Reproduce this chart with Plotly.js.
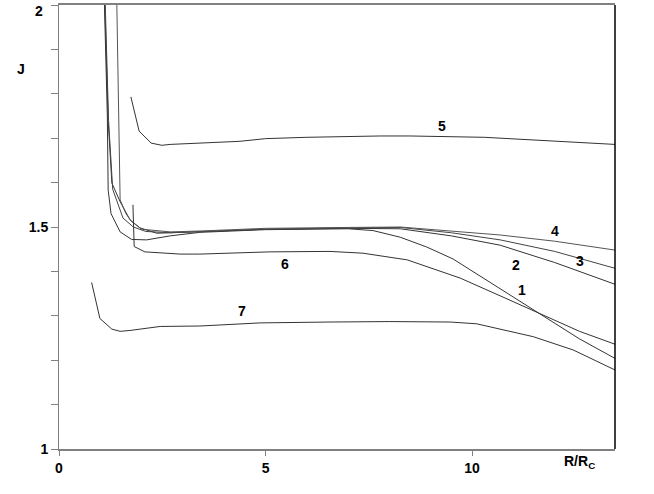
<!DOCTYPE html>
<html>
<head>
<meta charset="utf-8">
<script src="https://cdn.plot.ly/plotly-3.0.1.min.js"></script>
<style>html,body{margin:0;padding:0;background:#fff;}</style>
</head>
<body>
<div id="chart" style="width:654px;height:494px;"></div>
<script>
// Curve data (x = R/Rc, y = J)
const x1 = [1.10, 1.17, 1.19, 1.26, 1.48, 1.76, 2.12, 2.69, 3.41, 5.0, 7.0, 7.6, 8.26, 8.9, 9.54, 10.6, 11.81, 12.6, 13.46];
const y1 = [2.0, 1.75, 1.583, 1.53, 1.489, 1.472, 1.471, 1.48, 1.488, 1.494, 1.496, 1.492, 1.477, 1.455, 1.428, 1.365, 1.294, 1.248, 1.204];

const x2 = [1.11, 1.19, 1.28, 1.48, 1.72, 1.96, 2.37, 3.41, 5.0, 7.0, 8.26, 9.5, 10.68, 12.0, 13.46];
const y2 = [2.0, 1.74, 1.599, 1.557, 1.516, 1.498, 1.486, 1.489, 1.495, 1.497, 1.496, 1.48, 1.459, 1.42, 1.371];

const x3 = [1.12, 1.20, 1.30, 1.55, 1.80, 2.1, 2.69, 3.41, 5.0, 7.0, 8.26, 9.5, 10.68, 12.0, 13.46];
const y3 = [2.0, 1.74, 1.585, 1.52, 1.50, 1.49, 1.487, 1.49, 1.495, 1.498, 1.499, 1.487, 1.471, 1.445, 1.407];

const x4 = [1.40, 1.44, 1.48, 1.62, 1.76, 2.0, 2.69, 3.41, 5.0, 7.0, 8.26, 9.47, 10.68, 12.0, 13.46];
const y4 = [2.0, 1.74, 1.561, 1.53, 1.512, 1.495, 1.489, 1.491, 1.497, 1.499, 1.500, 1.491, 1.482, 1.468, 1.448];

const x5 = [1.74, 1.94, 2.23, 2.49, 2.69, 3.41, 4.38, 5.0, 6.0, 7.77, 8.5, 10.3, 11.4, 12.5, 13.46];
const y5 = [1.793, 1.716, 1.689, 1.684, 1.686, 1.689, 1.693, 1.699, 1.702, 1.705, 1.705, 1.702, 1.697, 1.692, 1.686];

const x6 = [1.79, 1.82, 2.08, 2.93, 3.41, 5.11, 6.56, 7.36, 8.43, 8.9, 9.71, 10.8, 11.81, 12.6, 13.46];
const y6 = [1.55, 1.456, 1.444, 1.439, 1.439, 1.444, 1.445, 1.441, 1.426, 1.411, 1.385, 1.34, 1.297, 1.265, 1.236];

const x7 = [0.79, 0.99, 1.28, 1.48, 1.72, 2.45, 3.41, 4.87, 6.56, 8.01, 9.47, 10.11, 11.48, 12.45, 13.46];
const y7 = [1.375, 1.294, 1.270, 1.265, 1.267, 1.276, 1.277, 1.284, 1.286, 1.287, 1.286, 1.282, 1.253, 1.223, 1.178];

const curveLabels = ["1", "2", "3", "4", "5", "6", "7"];
const labelX = [11.22, 11.06, 12.62, 12.01, 9.28, 5.47, 4.44];
const labelY = [1.358, 1.414, 1.423, 1.491, 1.728, 1.417, 1.311];

const yTickVals = [1, 1.1, 1.2, 1.3, 1.4, 1.5, 1.6, 1.7, 1.8, 1.9, 2];
const yTickText = ["1", "", "", "", "", "1.5", "", "", "", "", ""];
const yTopLabel = "2";
const xTickVals = [0, 5, 10];
const xTickText = ["0", "5", "10"];

const xs = [x1, x2, x3, x4, x5, x6, x7];
const ys = [y1, y2, y3, y4, y5, y6, y7];
const colors = ["#333", "#333", "#444", "#555", "#333", "#333", "#333"];

const traces = xs.map((x, i) => ({
  x: x, y: ys[i], type: "scatter", mode: "lines",
  line: {color: colors[i], width: 1}, hoverinfo: "skip", showlegend: false
}));

const fam = "Liberation Sans, Arial, sans-serif";
const font = {family: fam, size: 14, color: "#000"};
const bold = t => t === "" ? "" : "<b>" + t + "</b>";

const annotations = curveLabels.map((t, i) => ({
  x: labelX[i], y: labelY[i], xref: "x", yref: "y", text: bold(t),
  showarrow: false, font: font
}));
annotations.push({x: -0.025, y: 1, xref: "paper", yref: "paper", xanchor: "right", yanchor: "top",
  yshift: 4, text: bold(yTopLabel), showarrow: false, font: font});
annotations.push({x: -0.079, y: 0.878, xref: "paper", yref: "paper", text: bold("J"),
  showarrow: false, font: font});
annotations.push({x: 0.968, y: -0.055, xref: "paper", yref: "paper", text: "<b>R/R<sub>C</sub></b>",
  showarrow: false, font: font});

const layout = {
  width: 654, height: 494,
  margin: {l: 59, r: 39, t: 5, b: 45},
  paper_bgcolor: "#fff", plot_bgcolor: "#fff",
  showlegend: false,
  xaxis: {
    range: [0, 13.46], showgrid: false, zeroline: false,
    showline: true, linecolor: "#808080", linewidth: 2, mirror: true,
    ticks: "outside", ticklen: 5, tickcolor: "#808080", tickwidth: 1,
    tickvals: xTickVals, ticktext: xTickText.map(bold),
    tickfont: font
  },
  yaxis: {
    range: [1, 2], showgrid: false, zeroline: false,
    showline: true, linecolor: "#808080", linewidth: 1,
    ticks: "outside", ticklen: 7, tickcolor: "#808080", tickwidth: 1,
    tickvals: yTickVals, ticktext: yTickText.map(bold),
    tickfont: font
  },
  shapes: [{type: "line", xref: "paper", yref: "paper", x0: 1, x1: 1, y0: 0, y1: 1,
    line: {color: "#000", width: 1.5}}],
  annotations: annotations
};

Plotly.newPlot("chart", traces, layout, {displayModeBar: false, staticPlot: true});
</script>
</body>
</html>
